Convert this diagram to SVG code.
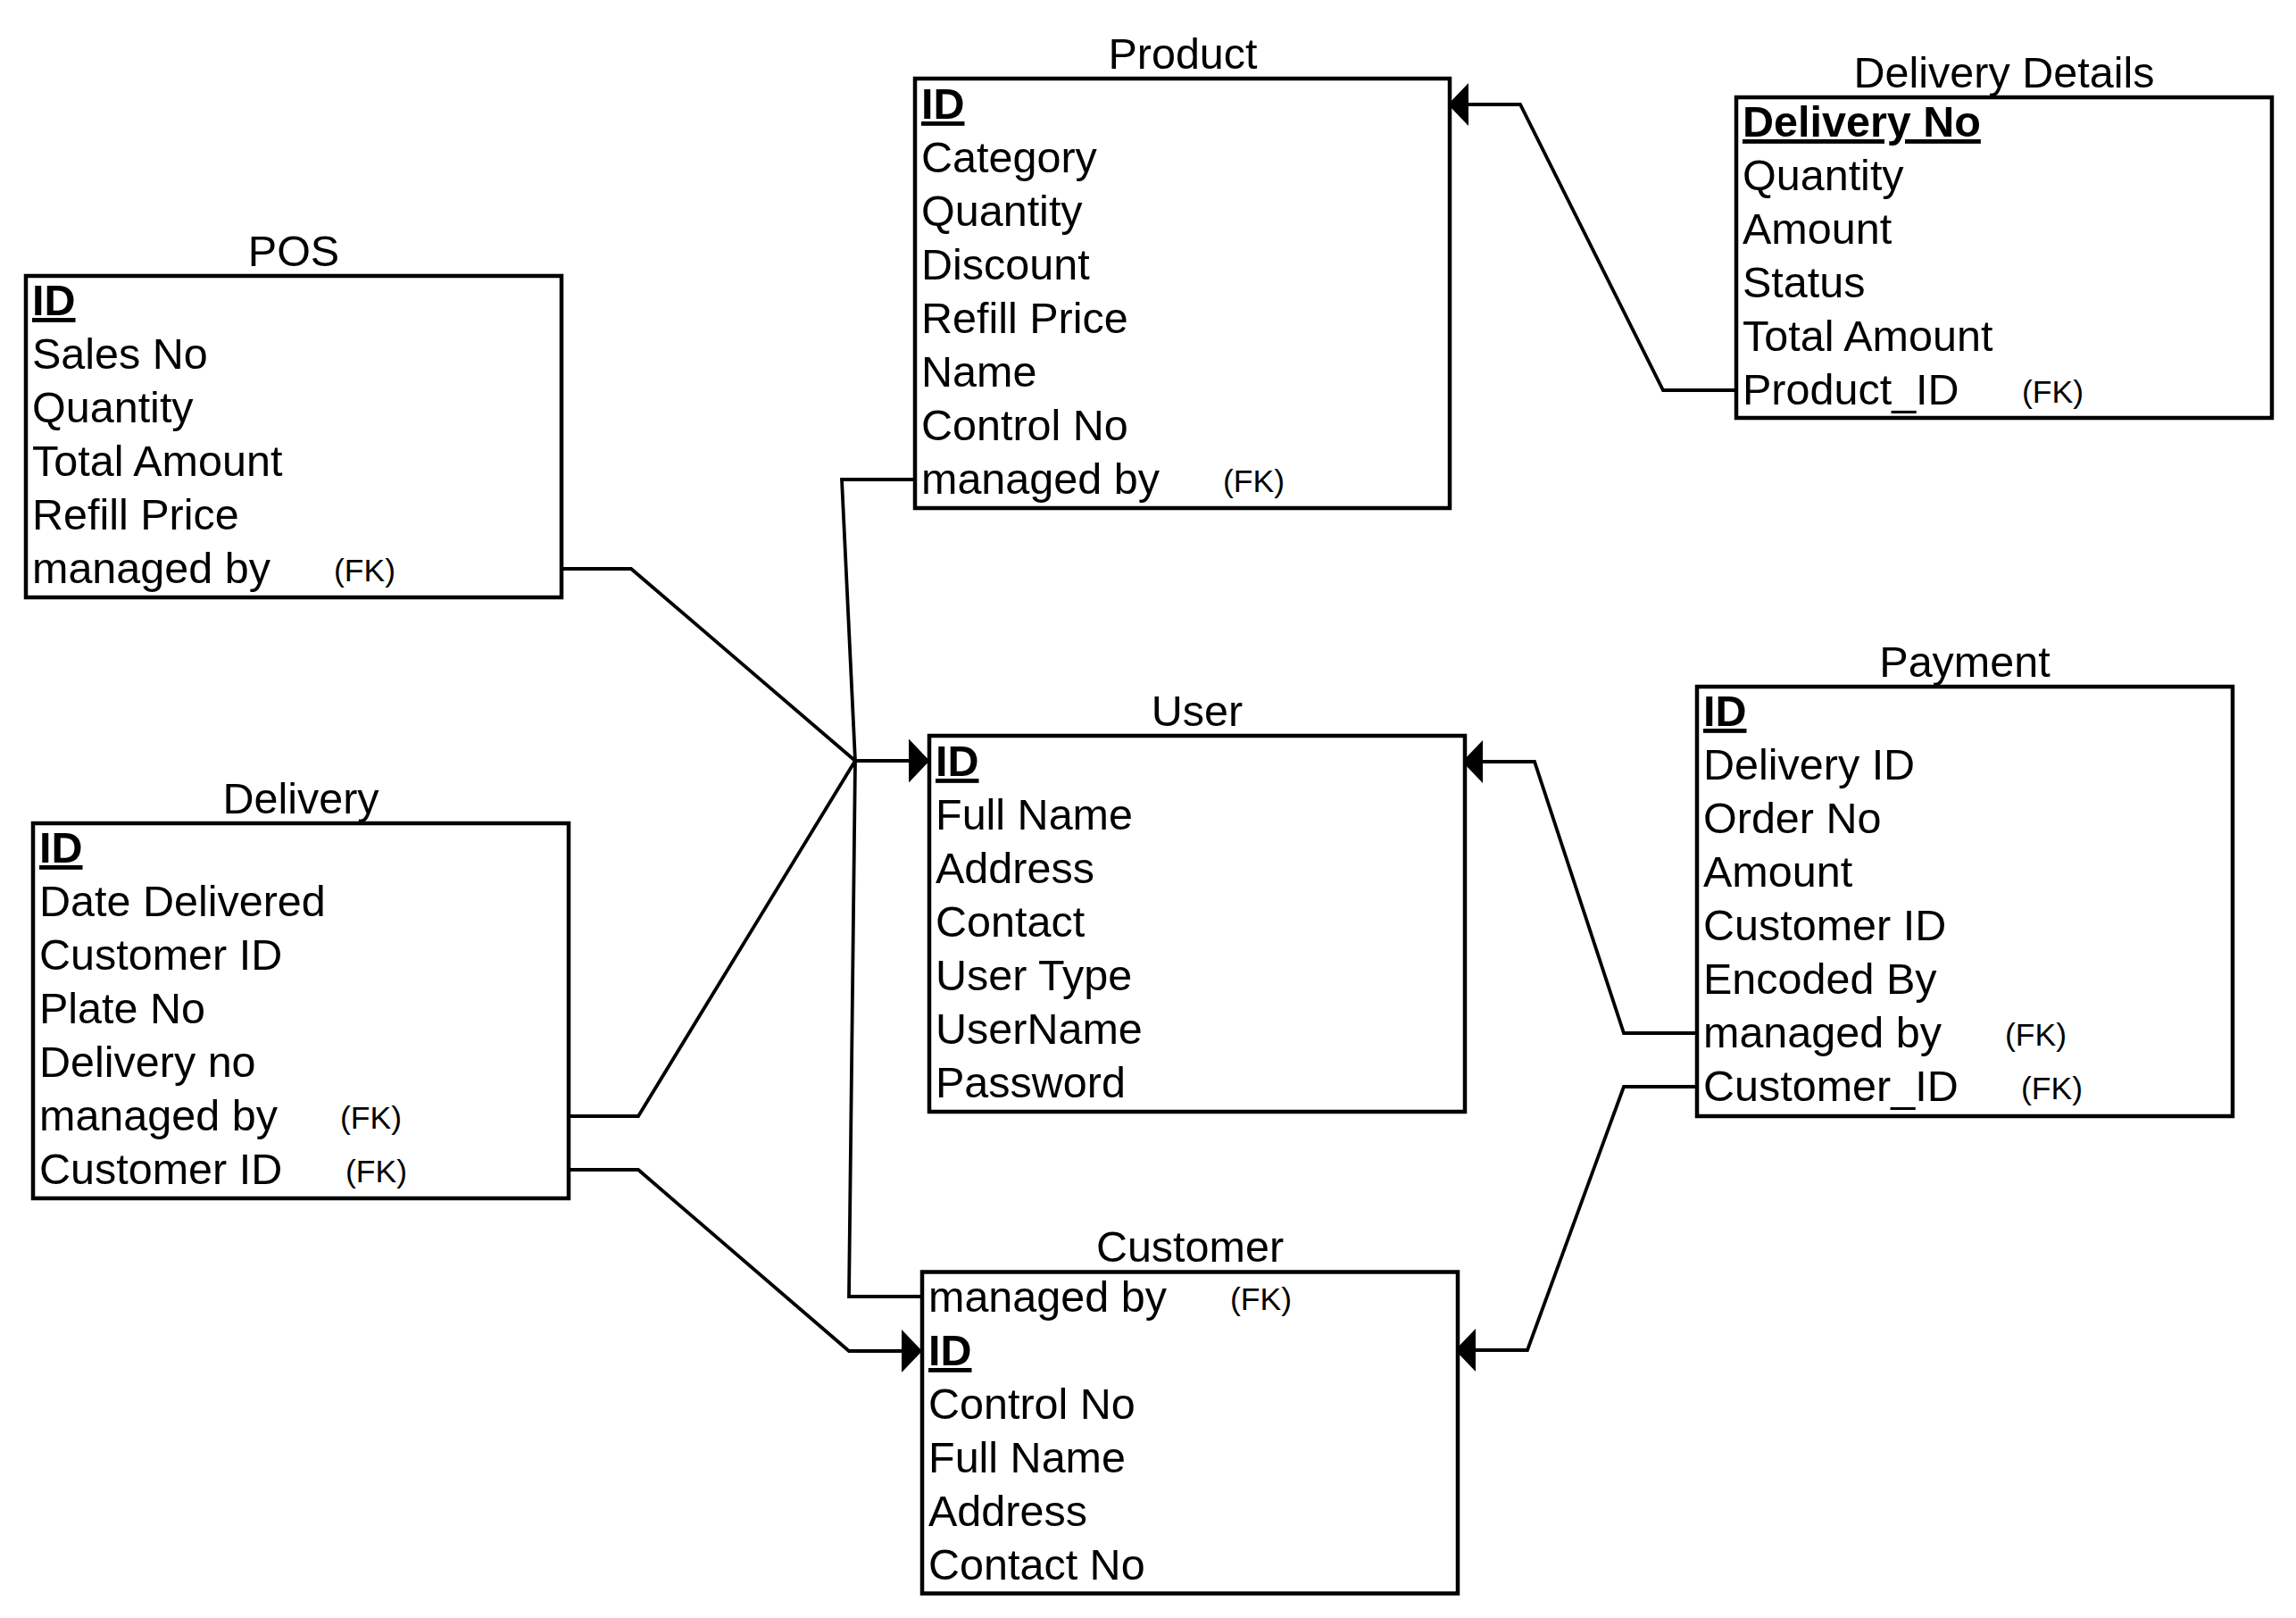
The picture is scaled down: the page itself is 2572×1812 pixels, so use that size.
<svg xmlns="http://www.w3.org/2000/svg" width="2572" height="1812" viewBox="0 0 2572 1812">
<style>
text{font-family:"Liberation Sans",Arial,sans-serif;fill:#000}
.t{font-size:48.5px;text-anchor:middle}
.r{font-size:48.5px}
.k{font-size:48.5px;font-weight:bold;text-decoration:underline}
.fk{font-size:35.5px}
.box{fill:#fff;stroke:#000;stroke-width:4.5}
.c{fill:none;stroke:#000;stroke-width:3.8;stroke-linejoin:miter;marker-end:url(#arr)}
</style>
<defs>
<marker id="arr" markerUnits="userSpaceOnUse" markerWidth="24" markerHeight="50" viewBox="0 0 24 50" refX="23" refY="24" orient="auto">
<path d="M0,0 L23,24 L0,48 Z" fill="#000"/>
</marker>
</defs>
<rect width="2572" height="1812" fill="#fff"/>

<g id="connectors">
<path class="c" d="M1945,437 H1863 L1703,117 H1622"/>
<path class="c" d="M629,637 H707 L958,852 H1041"/>
<path class="c" d="M1025,537 H943 L958,852 H1041"/>
<path class="c" d="M637,1250 H715 L958,852 H1041"/>
<path class="c" d="M1033,1452 H951 L958,852 H1041"/>
<path class="c" d="M637,1310 H715 L951,1513 H1033"/>
<path class="c" d="M1901,1157 H1819 L1719,853 H1638"/>
<path class="c" d="M1901,1217 H1819 L1711,1512 H1630"/>
</g>

<g id="pos">
<text class="t" x="329" y="298">POS</text>
<rect class="box" x="29" y="309" width="600" height="360"/>
<text class="k" x="36" y="353">ID</text>
<text class="r" x="36" y="413">Sales No</text>
<text class="r" x="36" y="473">Quantity</text>
<text class="r" x="36" y="533">Total Amount</text>
<text class="r" x="36" y="593">Refill Price</text>
<text class="r" x="36" y="653">managed by</text>
<text class="fk" x="374" y="651">(FK)</text>
</g>

<g id="product">
<text class="t" x="1325" y="77">Product</text>
<rect class="box" x="1025" y="88" width="599" height="481"/>
<text class="k" x="1032" y="133">ID</text>
<text class="r" x="1032" y="193">Category</text>
<text class="r" x="1032" y="253">Quantity</text>
<text class="r" x="1032" y="313">Discount</text>
<text class="r" x="1032" y="373">Refill Price</text>
<text class="r" x="1032" y="433">Name</text>
<text class="r" x="1032" y="493">Control No</text>
<text class="r" x="1032" y="553">managed by</text>
<text class="fk" x="1370" y="551">(FK)</text>
</g>

<g id="delivery-details">
<text class="t" x="2245" y="98">Delivery Details</text>
<rect class="box" x="1945" y="109" width="600" height="359"/>
<text class="k" x="1952" y="153">Delivery No</text>
<text class="r" x="1952" y="213">Quantity</text>
<text class="r" x="1952" y="273">Amount</text>
<text class="r" x="1952" y="333">Status</text>
<text class="r" x="1952" y="393">Total Amount</text>
<text class="r" x="1952" y="453">Product_ID</text>
<text class="fk" x="2265" y="451">(FK)</text>
</g>

<g id="user">
<text class="t" x="1341" y="813">User</text>
<rect class="box" x="1041" y="824" width="600" height="421"/>
<text class="k" x="1048" y="869">ID</text>
<text class="r" x="1048" y="929">Full Name</text>
<text class="r" x="1048" y="989">Address</text>
<text class="r" x="1048" y="1049">Contact</text>
<text class="r" x="1048" y="1109">User Type</text>
<text class="r" x="1048" y="1169">UserName</text>
<text class="r" x="1048" y="1229">Password</text>
</g>

<g id="payment">
<text class="t" x="2201" y="758">Payment</text>
<rect class="box" x="1901" y="769" width="600" height="481"/>
<text class="k" x="1908" y="813">ID</text>
<text class="r" x="1908" y="873">Delivery ID</text>
<text class="r" x="1908" y="933">Order No</text>
<text class="r" x="1908" y="993">Amount</text>
<text class="r" x="1908" y="1053">Customer ID</text>
<text class="r" x="1908" y="1113">Encoded By</text>
<text class="r" x="1908" y="1173">managed by</text>
<text class="fk" x="2246" y="1171">(FK)</text>
<text class="r" x="1908" y="1233">Customer_ID</text>
<text class="fk" x="2264" y="1231">(FK)</text>
</g>

<g id="delivery">
<text class="t" x="337" y="911">Delivery</text>
<rect class="box" x="37" y="922" width="600" height="420"/>
<text class="k" x="44" y="966">ID</text>
<text class="r" x="44" y="1026">Date Delivered</text>
<text class="r" x="44" y="1086">Customer ID</text>
<text class="r" x="44" y="1146">Plate No</text>
<text class="r" x="44" y="1206">Delivery no</text>
<text class="r" x="44" y="1266">managed by</text>
<text class="fk" x="381" y="1264">(FK)</text>
<text class="r" x="44" y="1326">Customer ID</text>
<text class="fk" x="387" y="1324">(FK)</text>
</g>

<g id="customer">
<text class="t" x="1333" y="1413">Customer</text>
<rect class="box" x="1033" y="1424.5" width="600" height="360"/>
<text class="r" x="1040" y="1469">managed by</text>
<text class="fk" x="1378" y="1467">(FK)</text>
<text class="k" x="1040" y="1529">ID</text>
<text class="r" x="1040" y="1589">Control No</text>
<text class="r" x="1040" y="1649">Full Name</text>
<text class="r" x="1040" y="1709">Address</text>
<text class="r" x="1040" y="1769">Contact No</text>
</g>
</svg>
